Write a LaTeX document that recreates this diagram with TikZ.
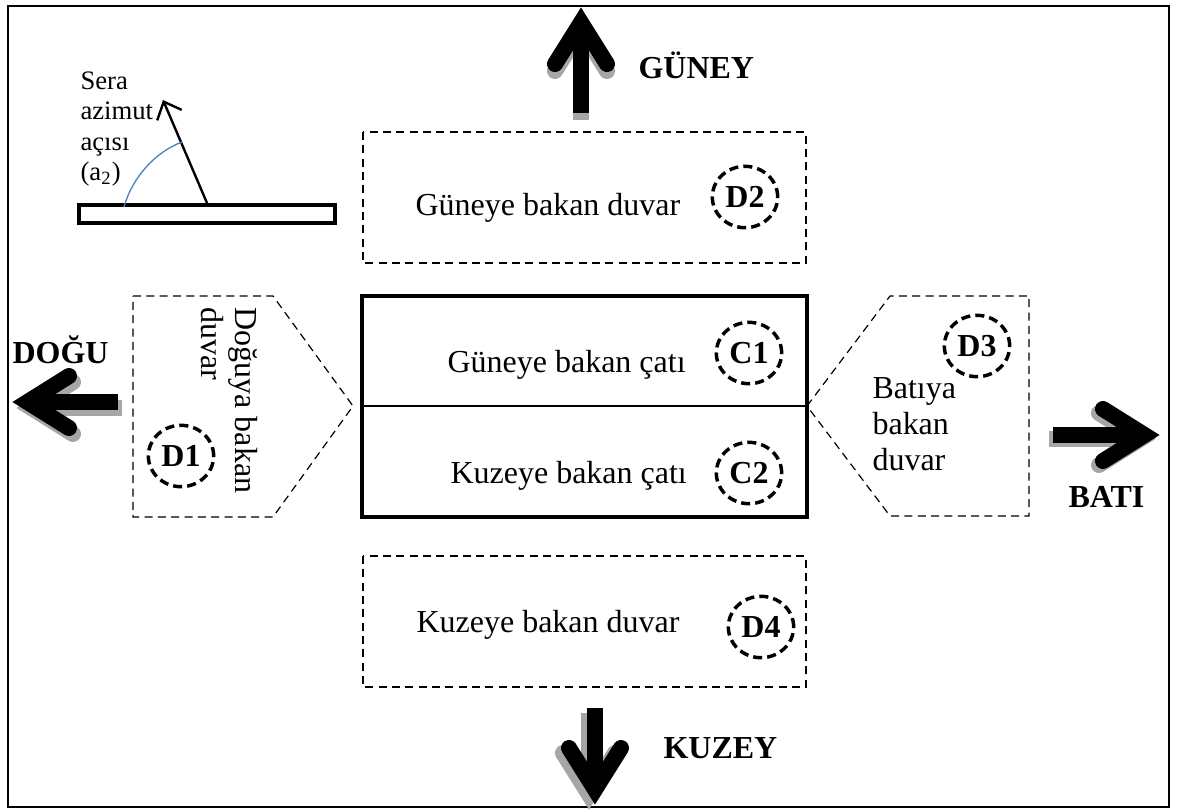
\documentclass[tikz,border=0pt]{standalone}
\usepackage{fontspec}
\setmainfont{Liberation Serif}
\usetikzlibrary{arrows.meta, shapes.geometric}
\definecolor{golge}{HTML}{A6A6A6}
\definecolor{acimavi}{HTML}{4F81BD}

\begin{document}
\begin{tikzpicture}[x=0.375pt, y=-0.375pt, font=\fontsize{12}{13.5}\selectfont,
  duvar/.style={draw, dash pattern=on 3pt off 2pt, line width=0.45pt},
  etiket/.style={ellipse, draw, line width=1.3pt, dash pattern=on 3.4pt off 1.9pt,
    minimum width=24.5pt, minimum height=23pt, inner sep=0pt, font=\fontsize{12}{13.5}\selectfont\bfseries},
  yazi/.style={inner sep=0pt, anchor=base west},
  yonyazi/.style={yazi, font=\fontsize{12}{13.5}\selectfont\bfseries},
  pics/yon/.style={code={
    \draw[line width=6pt] (0,20) -- (0,#1);
    \draw[line width=6pt, line cap=round] (-26,57) -- (0,15.5) -- (26,57);
  }}]
  \useasboundingbox (0,0) rectangle (1186,810);

  % Cerceve
  \draw[line width=0.75pt] (8,6) rectangle (1169,807);

  % Sera azimut acisi
  \draw[line width=1.5pt] (79,205) rectangle (335,223);
  \coordinate (taban) at (207,203);
  \coordinate (azimut) at (163,100);
  \draw[line width=0.9pt, -{Straight Barb[length=5.5pt, width=10pt]}] (taban) -- (azimut);
  \draw[acimavi, line width=0.5pt] (124,207) .. controls (132,178) and (155,152) .. (182,142);
  \node[inner sep=0pt, anchor=north west, align=left, font=\fontsize{10}{11.4}\selectfont] (sera) at (80,71)
    {Sera\\azimut\\açısı\\(a\textsubscript{2})};

  % Duvarlar
  \draw[duvar] (363,132) rectangle (806,263);
  \draw[duvar] (363,556) rectangle (806,687);
  \draw[duvar] (133,296) -- (273,296) -- (353,406) -- (273,517) -- (133,517) -- cycle;
  \draw[duvar] (807,406) -- (890,296) -- (1029,296) -- (1029,516) -- (890,516) -- cycle;

  % Catilar
  \draw[line width=1.3pt] (362,296) rectangle (807,517);
  \draw[line width=1.1pt] (362,406) -- (807,406);

  % Yazilar
  \node[yazi] (gduvar) at (415,215) {Güneye bakan duvar};
  \node[yazi] (gcati) at (447,372) {Güneye bakan çatı};
  \node[yazi] (kcati) at (450,483) {Kuzeye bakan çatı};
  \node[yazi] (kduvar) at (416,632) {Kuzeye bakan duvar};
  \node[inner sep=0pt, anchor=north west, align=left] (bduvar) at (872,377) {Batıya\\bakan\\duvar};
  \node[inner sep=0pt, anchor=north west, align=left, rotate=-90, font=\fontsize{12}{12.8}\selectfont] (dduvar) at (258,307)
    {Doğuya bakan\\duvar};

  % Etiketler
  \node[etiket] (d2) at (745,197) {D2};
  \node[etiket] (c1) at (749,353) {C1};
  \node[etiket] (c2) at (749,473) {C2};
  \node[etiket] (d4) at (761,627) {D4};
  \node[etiket] (d1) at (181,456) {D1};
  \node[etiket] (d3) at (977,346) {D3};

  % Yonler
  \pic[golge] at (581,14) {yon=106};
  \pic at (581,7) {yon=106};
  \pic[golge, rotate=90] at (16,408) {yon=106};
  \pic[rotate=90] at (12,402) {yon=106};
  \pic[golge, rotate=-90] at (1156,439) {yon=107};
  \pic[rotate=-90] at (1160,435) {yon=107};
  \pic[golge, rotate=180] at (589,810) {yon=97};
  \pic[rotate=180] at (595,805) {yon=97};

  \node[yonyazi] (guney) at (638,78) {GÜNEY};
  \node[yonyazi] (dogu) at (12,363) {DOĞU};
  \node[yonyazi] (bati) at (1068,507) {BATI};
  \node[yonyazi] (kuzey) at (663,758) {KUZEY};

\end{tikzpicture}
\end{document}
